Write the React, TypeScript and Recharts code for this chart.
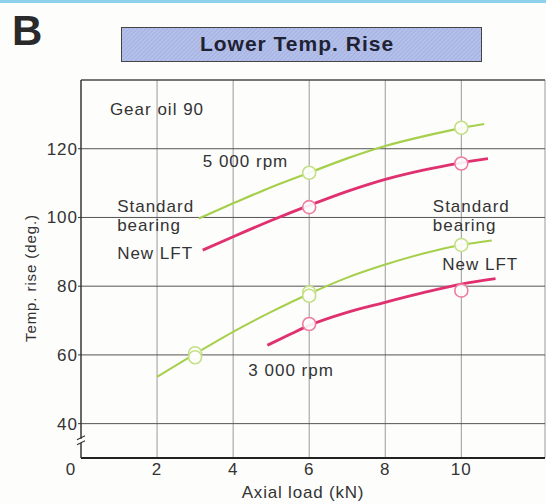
import React from "react";
import {
  ComposedChart,
  Line,
  Scatter,
  XAxis,
  YAxis,
  CartesianGrid,
  ReferenceLine,
  ReferenceDot,
} from "recharts";

const FONT = "'Liberation Sans', Arial, Helvetica, sans-serif";
const GREEN = "#a6cf4c";
const GREEN_RING = "#c4e086";
const PINK = "#e0306f";
const PINK_RING = "#ee7ea1";

const xTicks = [0, 2, 4, 6, 8, 10];
const yTicks = [40, 60, 80, 100, 120];

// curves (axial load kN, temp rise deg)
const std5000 = [
  { x: 3.1, y: 99.7 },
  { x: 4, y: 104.1 },
  { x: 5, y: 108.8 },
  { x: 6, y: 113 },
  { x: 7, y: 117.2 },
  { x: 8, y: 120.8 },
  { x: 9, y: 123.6 },
  { x: 10, y: 126 },
  { x: 10.6, y: 127.2 },
];
const lft5000 = [
  { x: 3.2, y: 90.5 },
  { x: 4, y: 94.4 },
  { x: 5, y: 99.1 },
  { x: 6, y: 103.5 },
  { x: 7, y: 107.6 },
  { x: 8, y: 111.1 },
  { x: 9, y: 113.8 },
  { x: 10, y: 115.9 },
  { x: 10.7, y: 117.1 },
];
const std3000 = [
  { x: 2, y: 53.6 },
  { x: 3, y: 60.3 },
  { x: 4, y: 66.7 },
  { x: 5, y: 72.5 },
  { x: 6, y: 77.8 },
  { x: 7, y: 82.5 },
  { x: 8, y: 86.3 },
  { x: 9, y: 89.5 },
  { x: 10, y: 92 },
  { x: 10.8, y: 93.3 },
];
const lft3000 = [
  { x: 4.9, y: 62.8 },
  { x: 5.5, y: 66 },
  { x: 6, y: 68.6 },
  { x: 7, y: 72.4 },
  { x: 8, y: 75.3 },
  { x: 9, y: 78.1 },
  { x: 10, y: 80.6 },
  { x: 10.9, y: 82.2 },
];

// measured points (open circles)
const std5000Pts = [
  { x: 6, y: 113 },
  { x: 10, y: 126.1 },
];
const lft5000Pts = [
  { x: 6, y: 103 },
  { x: 10, y: 115.7 },
];
const std3000Pts = [
  { x: 3, y: 60.5 },
  { x: 3, y: 59.3 },
  { x: 6, y: 78.2 },
  { x: 6, y: 77.2 },
  { x: 10, y: 92 },
];
const lft3000Pts = [
  { x: 6, y: 69 },
  { x: 10, y: 78.7 },
];

// text notes, anchored at left / baseline
const notes = [
  { x: 0.76, y: 129.8, text: "Gear oil 90" },
  { x: 3.2, y: 114.7, text: "5 000 rpm" },
  { x: 0.95, y: 101.6, text: "Standard" },
  { x: 0.95, y: 96.05, text: "bearing" },
  { x: 0.95, y: 87.9, text: "New LFT" },
  { x: 9.25, y: 101.6, text: "Standard" },
  { x: 9.25, y: 96.05, text: "bearing" },
  { x: 9.5, y: 84.7, text: "New LFT" },
  { x: 4.4, y: 53.85, text: "3 000 rpm" },
];

const textStyle = { fontFamily: FONT, fontSize: 17, letterSpacing: 1, fill: "#333" };

const ring = (stroke: string) => (p: any) => (
  <circle cx={p.cx} cy={p.cy} r={6.5} fill="#fff" fillOpacity={0.9} stroke={stroke} strokeWidth={1.6} />
);

const XTick = (p: any) => {
  const shift = p.payload.value === 0 ? -10 : 0;
  return (
    <text x={p.x + shift} y={p.y + 17} textAnchor="middle" style={textStyle}>
      {p.payload.value}
    </text>
  );
};

const YTick = (p: any) => (
  <text x={p.x + 1} y={p.y + 6} textAnchor="end" style={textStyle}>
    {p.payload.value}
  </text>
);

const BreakMark = (p: any) => (
  <g>
    <rect x={p.cx - 3} y={p.cy - 2} width={6} height={4} fill="#fff" />
    <line x1={p.cx - 4} y1={p.cy - 1} x2={p.cx + 4} y2={p.cy - 5} stroke="#333" strokeWidth={1.2} />
    <line x1={p.cx - 4} y1={p.cy + 4} x2={p.cx + 4} y2={p.cy} stroke="#333" strokeWidth={1.2} />
  </g>
);

export default function App() {
  return (
    <div
      style={{
        position: "absolute",
        left: 0,
        top: 0,
        width: 546,
        height: 504,
        background: "#fdfdfc",
        overflow: "hidden",
      }}
    >
      <svg width={546} height={80} style={{ position: "absolute", left: 0, top: 0 }}>
        <defs>
          <pattern id="hatch" width="3" height="3" patternUnits="userSpaceOnUse" patternTransform="rotate(45)">
            <rect width="3" height="3" fill="#b4c0ea" />
            <line x1="0" y1="0" x2="0" y2="3" stroke="#97a6dc" strokeWidth="1.1" />
          </pattern>
        </defs>
        <rect x={0} y={0} width={546} height={3} fill="#8fd0ec" />
        <text x={12} y={45} style={{ fontFamily: FONT, fontSize: 42, fontWeight: 700, fill: "#2a2a2a" }}>
          B
        </text>
        <rect x={121.5} y={27.5} width={360} height={34} fill="url(#hatch)" stroke="#444" strokeWidth={1} />
        <text
          x={297}
          y={51}
          textAnchor="middle"
          style={{ fontFamily: FONT, fontSize: 21, fontWeight: 700, letterSpacing: 1, fill: "#1f2233" }}
        >
          Lower Temp. Rise
        </text>
      </svg>
      <div style={{ position: "absolute", left: 0, top: 0 }}>
        <ComposedChart width={546} height={504} margin={{ top: 80, right: 1, bottom: 2, left: 21 }}>
          <CartesianGrid horizontal={false} stroke="#9a9a9a" strokeWidth={1} />
          <CartesianGrid vertical={false} stroke="#555" strokeWidth={1} />
          <XAxis
            dataKey="x"
            type="number"
            domain={[0, 12.2]}
            ticks={xTicks}
            height={44}
            tickSize={0}
            tickMargin={0}
            tick={<XTick />}
            axisLine={{ stroke: "#222", strokeWidth: 2 }}
            allowDataOverflow
            label={{
              content: (p: any) => {
                const vb = p.viewBox;
                return (
                  <text
                    x={vb.x + vb.width / 2 - 10}
                    y={vb.y + 40}
                    textAnchor="middle"
                    style={{ ...textStyle, letterSpacing: 0.8 }}
                  >
                    Axial load (kN)
                  </text>
                );
              },
            }}
          />
          <YAxis
            type="number"
            domain={[30, 140]}
            ticks={yTicks}
            width={60}
            tickSize={3}
            tickMargin={1}
            tick={<YTick />}
            tickLine={{ stroke: "#333" }}
            axisLine={{ stroke: "#333", strokeWidth: 1.3 }}
            allowDataOverflow
            label={{
              content: (p: any) => {
                const vb = p.viewBox;
                const cx = vb.x + 9;
                const cy = vb.y + vb.height / 2 + 9;
                return (
                  <text
                    x={cx}
                    y={cy}
                    transform={`rotate(-90 ${cx} ${cy})`}
                    textAnchor="middle"
                    dominantBaseline="central"
                    style={{ ...textStyle, fontSize: 15, letterSpacing: 0.9 }}
                  >
                    Temp. rise (deg.)
                  </text>
                );
              },
            }}
          />
          <ReferenceLine y={140} stroke="#444" strokeWidth={1.2} />
          <ReferenceDot x={0} y={35} r={0} shape={<BreakMark />} />
          {notes.map((n, i) => (
            <ReferenceDot
              key={i}
              x={n.x}
              y={n.y}
              r={0}
              shape={(p: any) => (
                <text x={p.cx} y={p.cy} style={textStyle}>
                  {n.text}
                </text>
              )}
            />
          ))}
          <Line data={std5000} dataKey="y" type="monotone" stroke={GREEN} strokeWidth={2.2} dot={false} isAnimationActive={false} />
          <Line data={lft5000} dataKey="y" type="monotone" stroke={PINK} strokeWidth={2.8} dot={false} isAnimationActive={false} />
          <Line data={std3000} dataKey="y" type="monotone" stroke={GREEN} strokeWidth={2} dot={false} isAnimationActive={false} />
          <Line data={lft3000} dataKey="y" type="monotone" stroke={PINK} strokeWidth={2.8} dot={false} isAnimationActive={false} />
          <Scatter data={std5000Pts} dataKey="y" shape={ring(GREEN_RING)} isAnimationActive={false} />
          <Scatter data={lft5000Pts} dataKey="y" shape={ring(PINK_RING)} isAnimationActive={false} />
          <Scatter data={std3000Pts} dataKey="y" shape={ring(GREEN_RING)} isAnimationActive={false} />
          <Scatter data={lft3000Pts} dataKey="y" shape={ring(PINK_RING)} isAnimationActive={false} />
        </ComposedChart>
      </div>
    </div>
  );
}
